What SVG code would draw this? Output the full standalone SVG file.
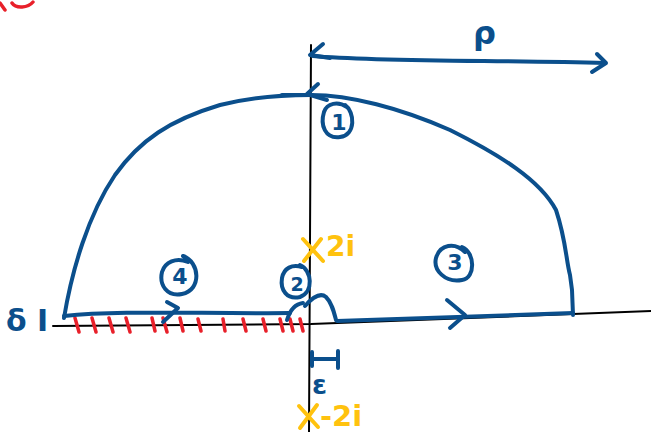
<svg xmlns="http://www.w3.org/2000/svg" width="651" height="432" viewBox="0 0 651 432">
<style>
.ax{fill:none;stroke:#000;stroke-width:2;stroke-linecap:round}
.b{fill:none;stroke:#0B4F8C;stroke-width:4;stroke-linecap:round;stroke-linejoin:round}
.r{fill:none;stroke:#E8202A;stroke-width:3.5;stroke-linecap:round}
.o{fill:none;stroke:#FFC20E;stroke-width:4;stroke-linecap:round}
.bt{fill:#0B4F8C;font-family:"DejaVu Sans",sans-serif;font-weight:bold}
.ot{fill:#FFC20E;font-family:"DejaVu Sans",sans-serif;font-weight:bold}
</style>
<rect width="651" height="432" fill="#fff"/>
<g id="fragment">
<path class="r" d="M0 3 L5 10"/>
<path class="r" d="M33 2 C28 8 16 9 12 3"/>
</g>
<g id="axes">
<path class="ax" d="M311 45 L309 432"/>
<path class="ax" d="M53 326 L311 324 L651 311"/>
</g>
<g id="hatch">
<path class="r" d="M75 318 l4 14 M92 318 l4 14 M109 318 l4 14 M126 318 l4 14 M152 318 l3 13 M163 318 l4 14 M180 318 l3 13 M198 319 l3 12 M223 319 l2 12 M243 319 l3 12 M263 319 l3 12 M280 319 l3 12 M290 319 l3 12 M300 319 l3 12"/>
</g>
<g id="rho">
<path class="b" d="M313 56 C380 62 500 60 605 63"/>
<path class="b" d="M323 44 L310 55 L330 58"/>
<path class="b" d="M597 54 L606 63 L592 72"/>
<text class="bt" x="473" y="44" font-size="32">ρ</text>
</g>
<g id="contour">
<path class="b" d="M64 318 C72 270 88 215 115 175 C140 140 170 120 220 105 C255 96 285 95 311 95 C350 95 400 108 450 130 C500 155 540 180 556 210 C566 240 566 260 570 275 L572 290 L573 315"/>
<path class="b" d="M311 95 L282 95"/>
<path class="b" d="M318 84 L307 94 L327 100"/>
<path class="b" d="M64 316 C120 310 200 314 290 313"/>
<path class="b" d="M167 302 L178 308 L163 322"/>
<path class="b" d="M287 320 C290 310 295 304 303 303"/>
<path class="b" d="M305 306 C312 298 320 292 326 297 C332 303 334 312 336 320"/>
<path class="b" d="M337 321 C420 318 500 316 573 313"/>
<path class="b" d="M447 300 L465 315 L450 328"/>
</g>
<g id="n1">
<path class="b" d="M345 105 C355 112 356 135 340 137 C325 139 320 125 324 112 C327 103 338 101 347 107"/>
<text class="bt" x="339" y="130" font-size="22" text-anchor="middle">1</text>
</g>
<g id="n2">
<path class="b" d="M300 265 C312 270 314 292 300 297 C287 300 280 290 282 278 C284 268 292 264 302 267"/>
<text class="bt" x="297" y="291" font-size="19" text-anchor="middle">2</text>
</g>
<g id="n3">
<path class="b" d="M462 247 C475 252 476 278 462 280 C445 283 433 270 436 258 C440 244 455 242 465 252"/>
<text class="bt" x="455" y="270" font-size="22" text-anchor="middle">3</text>
</g>
<g id="n4">
<path class="b" d="M183 256 C200 262 202 290 182 294 C167 297 159 285 162 272 C165 262 176 257 188 262"/>
<text class="bt" x="180" y="284" font-size="22" text-anchor="middle">4</text>
</g>
<g id="deltaI">
<text class="bt" x="6" y="331" font-size="30">δ I</text>
</g>
<g id="eps">
<path class="b" d="M312 352 L312 366 M312 359 L338 359 M338 351 L338 368"/>
<text class="bt" x="312" y="394" font-size="27">ε</text>
</g>
<g id="pole-up">
<path class="o" d="M303 239 L323 261 M321 239 L304 261"/>
<text class="ot" x="326" y="256" font-size="28">2i</text>
</g>
<g id="pole-down">
<path class="o" d="M299 406 L318 427 M317 405 L300 428"/>
<text class="ot" x="320" y="426" font-size="29">-2i</text>
</g>
</svg>
